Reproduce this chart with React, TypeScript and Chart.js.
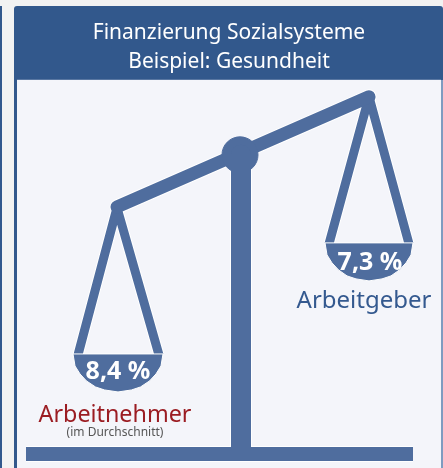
import React, { useEffect, useRef } from "react";
import { Chart, registerables } from "chart.js";

Chart.register(...registerables);

const titleLines = ["Finanzierung Sozialsysteme", "Beispiel: Gesundheit"];
const beamX = [117, 369];
const beamY = [207, 97];
const pivotX = [240];
const pivotY = [155];
const postX = [241, 241];
const postY = [155, 448];
const baseX = [26, 413];
const baseY = [454, 454];
const leftStringX = [78, 117, 159];
const leftStringY = [355, 208, 355];
const rightStringX = [329, 369, 409];
const rightStringY = [244, 97, 244];
const leftPanX = [73, 75, 80, 86.5, 95.5, 104.5, 118, 131.5, 140.5, 149.5, 156, 161, 163, 73];
const leftPanY = [354, 366, 374, 381, 387, 390, 392, 390, 387, 381, 374, 366, 354, 354];
const rightPanX = [325, 327, 332, 338.5, 347, 356, 369, 382, 391, 399.5, 406, 411, 413, 325];
const rightPanY = [243, 255, 263, 270, 276, 279, 281, 279, 276, 270, 263, 255, 243, 243];
const shareValues = ["8,4 %", "7,3 %"];
const shareX = [118, 370];
const shareY = [379, 270];
const payers = ["Arbeitnehmer", "Arbeitgeber"];
const payerX = [115, 364];
const payerY = [422, 308];
const noteText = "(im Durchschnitt)";
const noteX = [115];
const noteY = [436];

const BLUE = "#4f6d9e";
const HALO = "#ffffff";
const PANEL = "#f4f5fa";
const HEADER = "#32588c";
const FONT = "'Noto Sans', sans-serif";

const pts = (xs: number[], ys: number[]) => xs.map((x, i) => ({ x, y: ys[i] }));

function stroke(xs: number[], ys: number[], width: number, cap: CanvasLineCap, order: number) {
  const base = {
    data: pts(xs, ys),
    showLine: true,
    pointRadius: 0,
    borderCapStyle: cap,
    borderJoinStyle: "round" as CanvasLineJoin,
    fill: false,
  };
  return [
    { ...base, borderColor: BLUE, borderWidth: width, order },
    { ...base, borderColor: HALO, borderWidth: width + 2, order: order + 100 },
  ];
}

function pan(xs: number[], ys: number[], order: number) {
  return {
    data: pts(xs, ys),
    showLine: true,
    pointRadius: 0,
    fill: "shape",
    backgroundColor: BLUE,
    borderColor: HALO,
    borderWidth: 1,
    order,
  };
}

const labelsPlugin = {
  id: "scaleLabels",
  beforeDraw(chart: any) {
    const { ctx, chartArea: a } = chart;
    ctx.save();
    ctx.fillStyle = PANEL;
    ctx.fillRect(a.left, a.top, a.right - a.left, a.bottom - a.top);
    ctx.restore();
  },
  afterDraw(chart: any) {
    const { ctx, scales } = chart;
    const put = (t: string, x: number, y: number, font: string, color: string) => {
      ctx.font = font;
      ctx.fillStyle = color;
      ctx.fillText(t, scales.x.getPixelForValue(x), scales.y.getPixelForValue(y));
    };
    ctx.save();
    ctx.textAlign = "center";
    ctx.textBaseline = "alphabetic";
    put(shareValues[0], shareX[0], shareY[0], `bold 25px ${FONT}`, "#ffffff");
    put(shareValues[1], shareX[1], shareY[1], `bold 25px ${FONT}`, "#ffffff");
    put(payers[0], payerX[0], payerY[0], `23.3px ${FONT}`, "#9b1c22");
    put(payers[1], payerX[1], payerY[1], `24px ${FONT}`, "#34598f");
    put(noteText, noteX[0], noteY[0], `12px ${FONT}`, "#555555");
    ctx.restore();
  },
};

export default function App() {
  const ref = useRef<HTMLCanvasElement>(null);
  useEffect(() => {
    const chart = new Chart(ref.current!, {
      type: "scatter",
      data: {
        datasets: [
          ...stroke(beamX, beamY, 13, "round", 3),
          ...stroke(postX, postY, 20, "butt", 2),
          ...stroke(baseX, baseY, 14, "butt", 1),
          ...stroke(leftStringX, leftStringY, 9, "butt", 5),
          ...stroke(rightStringX, rightStringY, 9, "butt", 5),
          pan(leftPanX, leftPanY, 4),
          pan(rightPanX, rightPanY, 4),
          {
            data: pts(pivotX, pivotY),
            pointRadius: 18,
            backgroundColor: BLUE,
            borderColor: BLUE,
            order: 2,
          },
        ] as any,
      },
      options: {
        animation: false,
        responsive: false,
        layout: { padding: 0, autoPadding: false },
        scales: {
          x: { type: "linear", min: 17, max: 441, display: false },
          y: { type: "linear", min: 80, max: 468, reverse: true, display: false },
        },
        plugins: {
          legend: { display: false },
          tooltip: { enabled: false },
          title: {
            display: true,
            text: titleLines,
            color: "#ffffff",
            font: { family: FONT, size: 21, weight: "normal", lineHeight: 1.4 },
            padding: { top: 12, bottom: 3 },
          },
        },
      },
      plugins: [labelsPlugin],
    });
    return () => chart.destroy();
  }, []);
  return (
    <div style={{ position: "fixed", left: 0, top: 0, width: 443, height: 468, background: "#f2f2f2", overflow: "hidden" }}>
      <div style={{ position: "absolute", left: 0, top: 6, width: 2, height: 462, background: "#32588c" }} />
      <div style={{ position: "absolute", left: 14, top: 6, width: 429, height: 74, background: HEADER, borderRadius: "3px 3px 0 0" }} />
      <div style={{ position: "absolute", left: 14, top: 80, width: 3, height: 388, background: HEADER }} />
      <div style={{ position: "absolute", left: 441, top: 80, width: 2, height: 388, background: "#7f9bc0" }} />
      <canvas ref={ref} width={424} height={462} style={{ position: "absolute", left: 17, top: 6, display: "block" }} />
    </div>
  );
}
